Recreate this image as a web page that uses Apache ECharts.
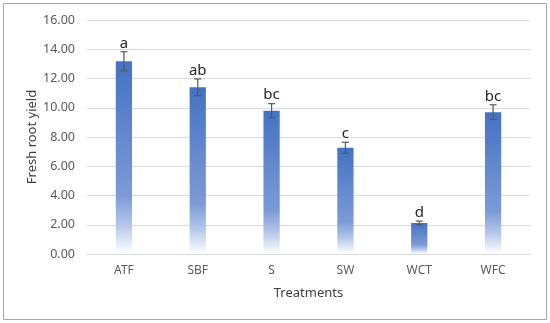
<!DOCTYPE html>
<html><head><meta charset="utf-8">
<script src="https://cdn.jsdelivr.net/npm/echarts@6/dist/echarts.min.js"></script>
<style>html,body{margin:0;padding:0;background:#fff}#c{width:550px;height:323px}</style>
</head><body><div id="c"></div>
<script>
const categories = ['ATF','SBF','S','SW','WCT','WFC'];
const yieldValues = [13.18, 11.40, 9.80, 7.26, 2.12, 9.70];
const errorValues = [0.65, 0.57, 0.48, 0.38, 0.13, 0.50];
const letters = ['a','ab','bc','c','d','bc'];
const yTicks = { min: 0, max: 16, interval: 2 };

const chart = echarts.init(document.getElementById('c'), null, {renderer:'canvas'});
const font = 'Noto Sans';
chart.setOption({
  animation: false,
  graphic: [{type:'rect', shape:{x:3.5,y:3.5,width:543,height:316}, style:{fill:'none', stroke:'#a6a6a6', lineWidth:1}, z:-1}],
  grid: {left: 87, right: 20, top: 20, bottom: 69},
  xAxis: {
    type: 'category', data: categories,
    name: 'Treatments', nameLocation: 'middle', nameGap: 33, nameMoveOverlap: false,
    nameTextStyle: {fontFamily: font, fontSize: 13, color: '#404040'},
    axisLine: {lineStyle: {color: '#d9d9d9'}},
    axisTick: {show: false},
    axisLabel: {fontFamily: font, fontSize: 12, color: '#595959', margin: 11}
  },
  yAxis: {
    type: 'value', min: yTicks.min, max: yTicks.max, interval: yTicks.interval,
    name: 'Fresh root yield', nameLocation: 'middle', nameGap: 48, nameRotate: 90, nameMoveOverlap: false,
    nameTextStyle: {fontFamily: font, fontSize: 13, color: '#404040'},
    axisLine: {show: false}, axisTick: {show: false},
    axisLabel: {fontFamily: font, fontSize: 12.5, color: '#595959', margin: 12, formatter: v => v.toFixed(2)},
    splitLine: {lineStyle: {color: '#d9d9d9'}}
  },
  series: [{
    type: 'bar', data: yieldValues, barWidth: '22%',
    itemStyle: {color: new echarts.graphic.LinearGradient(0,0,0,1,[
      {offset:0, color:'#4472C4'},
      {offset:0.7, color:'#7c9bd6'},
      {offset:0.85, color:'#b4c7ea'},
      {offset:1, color:'#ffffff'}
    ])}
  }, {
    type: 'custom',
    data: yieldValues.map((v,i)=>[i, v, errorValues[i]]),
    renderItem: function(params, api) {
      const i = api.value(0), v = api.value(1), e = api.value(2);
      const top = api.coord([i, v+e]);
      const bot = api.coord([i, v-e]);
      const w = 3.5;
      return {type:'group', children:[
        {type:'line', shape:{x1:top[0],y1:top[1],x2:bot[0],y2:bot[1]}, style:{stroke:'#595959', lineWidth:1.2}},
        {type:'line', shape:{x1:top[0]-w,y1:top[1],x2:top[0]+w,y2:top[1]}, style:{stroke:'#595959', lineWidth:1.2}},
        {type:'line', shape:{x1:bot[0]-w,y1:bot[1],x2:bot[0]+w,y2:bot[1]}, style:{stroke:'#595959', lineWidth:1.2}},
        {type:'text', x: top[0], y: top[1]-1, style:{text: letters[params.dataIndex], fontFamily: font, fontSize: 15, fill:'#262626', align:'center', verticalAlign:'bottom'}}
      ]};
    },
    z: 5
  }]
});
</script></body></html>
